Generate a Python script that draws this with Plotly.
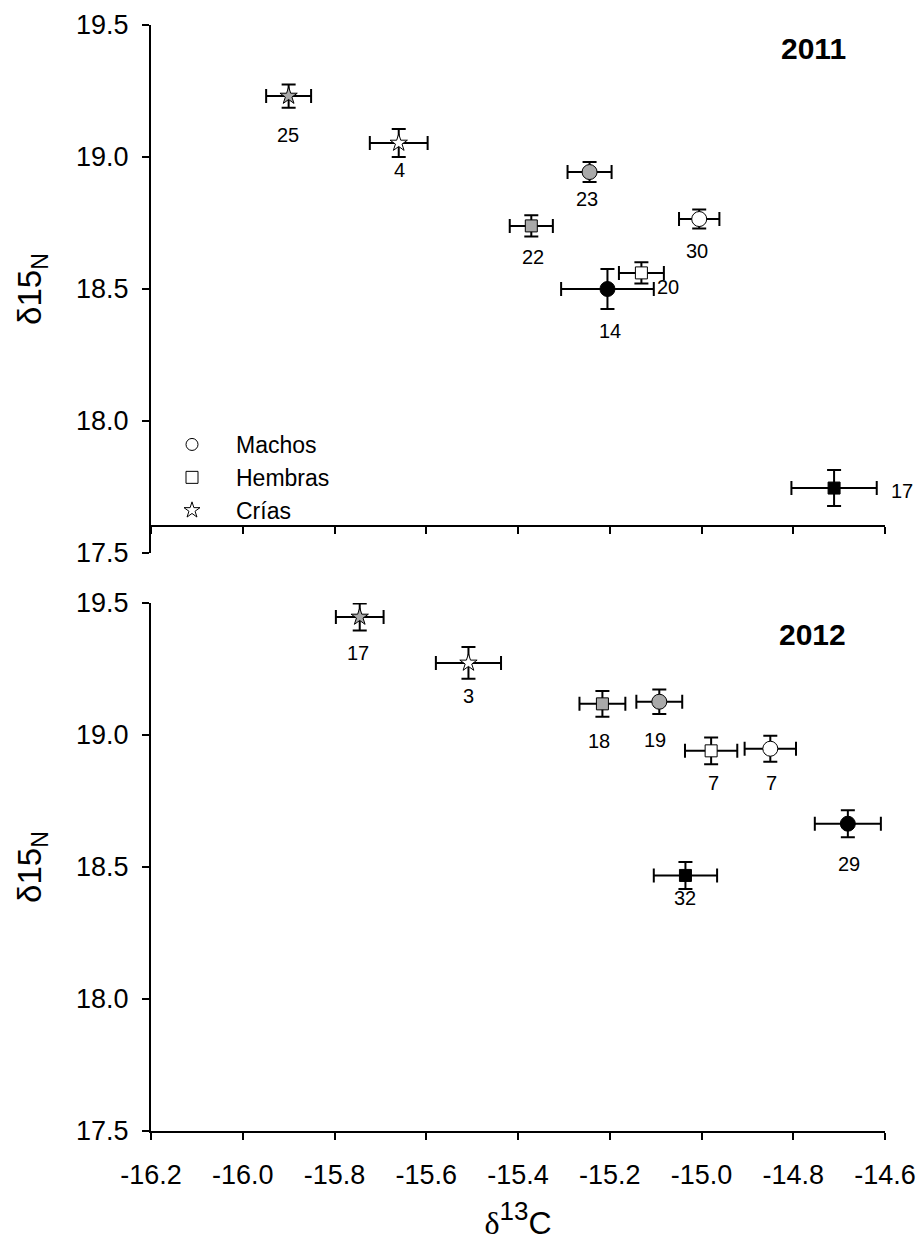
import plotly.graph_objects as go

# ---------------- data ----------------
# 2011
m11_x = [-15.005, -15.244, -15.205]
m11_y = [18.765, 18.943, 18.500]
m11_xe = [0.044, 0.048, 0.101]
m11_ye = [0.036, 0.038, 0.076]
m11_n = [30, 23, 14]

h11_x = [-15.131, -15.371, -14.711]
h11_y = [18.561, 18.739, 17.746]
h11_xe = [0.049, 0.047, 0.093]
h11_ye = [0.040, 0.040, 0.068]
h11_n = [20, 22, 17]

c11_x = [-15.900, -15.660]
c11_y = [19.231, 19.053]
c11_xe = [0.049, 0.063]
c11_ye = [0.044, 0.053]
c11_n = [25, 4]

# 2012
m12_x = [-14.850, -15.092, -14.681]
m12_y = [18.948, 19.126, 18.664]
m12_xe = [0.056, 0.050, 0.072]
m12_ye = [0.049, 0.046, 0.051]
m12_n = [7, 19, 29]

h12_x = [-14.979, -15.216, -15.035]
h12_y = [18.940, 19.118, 18.468]
h12_xe = [0.057, 0.050, 0.069]
h12_ye = [0.051, 0.049, 0.051]
h12_n = [7, 18, 32]

c12_x = [-15.745, -15.508]
c12_y = [19.447, 19.273]
c12_xe = [0.052, 0.071]
c12_ye = [0.051, 0.060]
c12_n = [17, 3]

# fills (white / gray / black groups)
fill3 = ["white", "#a9a9a9", "black"]
fill_star = ["#a9a9a9", "white"]

x_ticks = [-16.2, -16.0, -15.8, -15.6, -15.4, -15.2, -15.0, -14.8, -14.6]
x_ticktext = ["-16.2", "-16.0", "-15.8", "-15.6", "-15.4", "-15.2", "-15.0", "-14.8", "-14.6"]
y_ticks = [17.5, 18.0, 18.5, 19.0, 19.5]
y_ticktext = ["17.5", "18.0", "18.5", "19.0", "19.5"]

legend_names = ["Machos", "Hembras", "Crías"]
panel_titles = ["2011", "2012"]

# label offsets in px (xshift, yshift)
m11_off = [(-2, -32), (-3, -27), (3, -42)]
h11_off = [(27, -14), (2, -31), (68, -3)]
c11_off = [(-1, -39), (1, -27)]
m12_off = [(1, -34), (-4, -38), (1, -40)]
h12_off = [(2, -32), (-3, -37), (0, -23)]
c12_off = [(-2, -36), (0, -33)]

W, H = 921, 1247
FONT = "Liberation Sans, Arial, sans-serif"

fig = go.Figure()


def add_group(xs, ys, xe, ye, fills, symbol, size, xa, ya):
    fig.add_trace(go.Scatter(
        x=xs, y=ys, mode="markers", xaxis=xa, yaxis=ya, showlegend=False,
        marker=dict(symbol=symbol, size=size, color=fills,
                    line=dict(color="black", width=1)),
        error_x=dict(type="data", array=xe, visible=True, color="black", thickness=2, width=7),
        error_y=dict(type="data", array=ye, visible=True, color="black", thickness=2, width=7),
        hoverinfo="skip",
    ))


add_group(m11_x, m11_y, m11_xe, m11_ye, fill3, "circle", 15, "x2", "y2")
add_group(h11_x, h11_y, h11_xe, h11_ye, fill3, "square", 12, "x2", "y2")
add_group(c11_x, c11_y, c11_xe, c11_ye, fill_star, "star", 13, "x2", "y2")
add_group(m12_x, m12_y, m12_xe, m12_ye, fill3, "circle", 15, "x", "y")
add_group(h12_x, h12_y, h12_xe, h12_ye, fill3, "square", 12, "x", "y")
add_group(c12_x, c12_y, c12_xe, c12_ye, fill_star, "star", 13, "x", "y")

# legend entries
for name, sym in zip(legend_names, ["circle-open", "square-open", "star-open"]):
    fig.add_trace(go.Scatter(
        x=[None], y=[None], mode="markers", name=name, xaxis="x2", yaxis="y2",
        marker=dict(symbol=sym, size=12, color="black", line=dict(width=1)),
    ))

annotations = []


def add_labels(xs, ys, ns, offs, xr, yr):
    for xv, yv, n, (dx, dy) in zip(xs, ys, ns, offs):
        annotations.append(dict(
            x=xv, y=yv, xref=xr, yref=yr, text=str(n), showarrow=False,
            xanchor="center", yanchor="middle",
            xshift=dx, yshift=dy, font=dict(size=20, family=FONT, color="black"),
        ))


add_labels(m11_x, m11_y, m11_n, m11_off, "x2", "y2")
add_labels(h11_x, h11_y, h11_n, h11_off, "x2", "y2")
add_labels(c11_x, c11_y, c11_n, c11_off, "x2", "y2")
add_labels(m12_x, m12_y, m12_n, m12_off, "x", "y")
add_labels(h12_x, h12_y, h12_n, h12_off, "x", "y")
add_labels(c12_x, c12_y, c12_n, c12_off, "x", "y")

for t, (px, py) in zip(panel_titles, [(813, 49), (812, 634)]):
    annotations.append(dict(x=px / W, y=1 - py / H, xref="paper", yref="paper", text="<b>%s</b>" % t,
                            xanchor="center", yanchor="middle",
                            showarrow=False, font=dict(size=30, family=FONT, color="black")))

xdom = [151 / W, 885 / W]
top_dom = [1 - 553 / H, 1 - 25 / H]
bot_dom = [1 - 1131 / H, 1 - 603 / H]

axis_common = dict(showline=True, linecolor="black", linewidth=2, ticks="outside",
                   ticklen=7, tickwidth=2, tickcolor="black", showgrid=False, zeroline=False,
                   automargin=False,
                   tickfont=dict(size=27, family=FONT, color="black"))

ytitle = dict(text="δ15<sub>N</sub>", font=dict(size=33, family=FONT, color="black"), standoff=24)
xtitle = dict(text="<span style=\"font-family:'Liberation Serif'\">δ</span><sup><span style=\"font-size:26px\">13</span></sup>C",
              font=dict(size=32, family=FONT, color="black"), standoff=22)

fig.update_layout(
    width=W, height=H, margin=dict(l=0, r=0, t=0, b=0, autoexpand=False),
    paper_bgcolor="white", plot_bgcolor="white",
    showlegend=True,
    legend=dict(x=148 / W, y=1 - 423 / H, xanchor="left", yanchor="top",
                font=dict(size=23, family=FONT, color="black"),
                bgcolor="rgba(0,0,0,0)", itemwidth=78, tracegroupgap=0),
    xaxis=dict(domain=xdom, range=[-16.2, -14.6], anchor="y", tickvals=x_ticks,
               ticktext=x_ticktext, title=xtitle, ticklabelstandoff=12, **axis_common),
    yaxis=dict(domain=bot_dom, range=[17.5, 19.5], anchor="x", tickvals=y_ticks,
               ticktext=y_ticktext, title=ytitle, ticklabelstandoff=8, **axis_common),
    xaxis2=dict(domain=xdom, range=[-16.2, -14.6], anchor="free", position=1 - 526 / H,
                matches="x", tickvals=x_ticks, showticklabels=False, **axis_common),
    yaxis2=dict(domain=top_dom, range=[17.5, 19.5], anchor="x2", tickvals=y_ticks,
                ticktext=y_ticktext, title=ytitle, ticklabelstandoff=8, **axis_common),
    annotations=annotations,
)

fig.write_html("out.html")
